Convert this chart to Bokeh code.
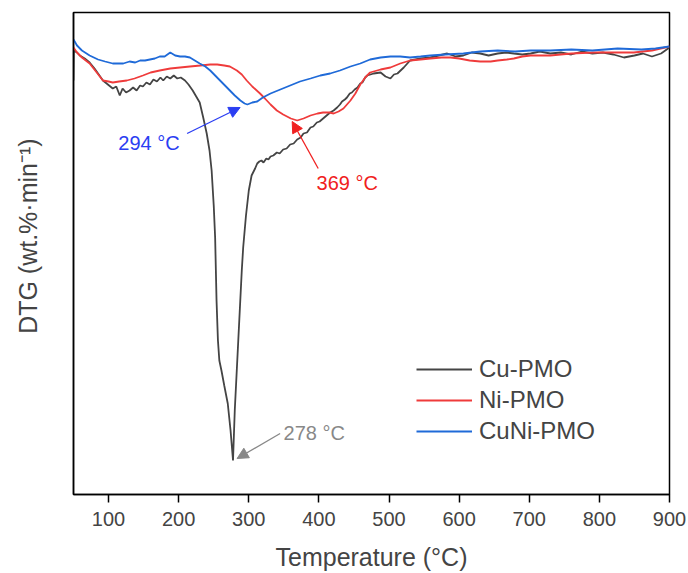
import math
from bokeh.plotting import figure
from bokeh.models import Range1d, Label, Arrow, NormalHead, FixedTicker
from bokeh.embed import file_html
from bokeh.resources import INLINE

FONT = "Liberation Sans"

# ---- data (DTG, wt.%/min) ----
cu_T = [50, 50.5, 55, 59, 66, 73, 80, 86, 92, 99, 106, 111, 116, 120, 125, 130, 135, 140, 145, 149,
        154, 159, 164, 169, 174, 178, 183, 188, 193, 198, 203, 209, 214, 220, 225, 230, 235, 240, 244,
        247, 250, 252, 254, 256, 258, 261, 265, 270, 274, 277.5, 280, 285, 290, 292, 296, 300, 304,
        309, 312, 315, 318, 321, 325, 328, 331, 335, 340, 344, 349, 354, 359, 364, 369, 374, 378,
        383, 388, 392, 397, 401, 406, 411, 416, 421, 426, 430, 433, 437, 440, 444, 447, 451, 455,
        459, 462, 466, 469, 478, 488, 495, 502, 507, 512, 521, 530, 545, 559, 571, 583, 595, 606, 618,
        630, 642, 655, 667, 678, 690, 702, 715, 730, 745, 760, 775, 790, 805, 820, 835, 850, 862,
        875, 888, 900]
cu_dtg = [-0.80, -0.20, -0.24, -0.30, -0.36, -0.44, -0.56, -0.68, -0.80, -0.88, -0.96, -0.92, -1.10,
          -0.96, -1.04, -1.00, -0.94, -1.00, -0.90, -0.92, -0.84, -0.88, -0.78, -0.82, -0.74, -0.80,
          -0.72, -0.76, -0.70, -0.76, -0.74, -0.80, -0.88, -1.00, -1.12, -1.24, -1.54, -1.86, -2.20,
          -2.60, -3.30, -3.94, -5.20, -6.00, -6.40, -6.60, -6.90, -7.26, -7.80, -8.40, -7.40, -6.00,
          -4.60, -4.14, -3.50, -3.00, -2.70,
          -2.56, -2.46, -2.42, -2.40, -2.44, -2.36, -2.38, -2.32, -2.30, -2.24, -2.26, -2.18, -2.16,
          -2.08, -2.06, -1.98, -1.94, -1.86, -1.84, -1.74, -1.72, -1.64, -1.62, -1.56, -1.50, -1.44,
          -1.40, -1.34, -1.28, -1.22, -1.18, -1.14, -1.06, -1.04, -0.98, -0.94, -0.86, -0.84, -0.74,
          -0.70, -0.66, -0.64, -0.72, -0.76, -0.68, -0.66, -0.54, -0.40, -0.36, -0.34, -0.30, -0.26,
          -0.32, -0.30, -0.24, -0.26, -0.30, -0.26, -0.24, -0.26, -0.28, -0.26, -0.22, -0.26, -0.24,
          -0.28, -0.22, -0.26, -0.24, -0.28, -0.34, -0.30, -0.26, -0.32, -0.26, -0.14]

ni_T = [50, 55, 62, 73, 82, 92, 100, 106, 115, 126, 137, 149, 160, 173, 188, 202, 216, 231, 245, 255,
        265, 273, 283, 290, 297, 305, 316, 323, 331, 340, 349, 360, 369, 378, 388, 398, 406, 415, 421,
        428, 435, 445, 452, 459, 466, 473, 488, 502, 516, 530, 545, 559, 575, 588, 600, 615, 630, 645,
        655, 668, 678, 690, 702, 730, 760, 792, 820, 849, 875, 900]
ni_dtg = [-0.14, -0.24, -0.34, -0.46, -0.62, -0.80, -0.82, -0.84, -0.82, -0.80, -0.76, -0.70, -0.64,
          -0.60, -0.56, -0.54, -0.52, -0.50, -0.48, -0.48, -0.50, -0.52, -0.60, -0.68, -0.80, -0.92,
          -1.06, -1.16, -1.28, -1.40, -1.48, -1.56, -1.60, -1.56, -1.50, -1.46, -1.44, -1.44, -1.46,
          -1.42, -1.36, -1.20, -1.06, -0.88, -0.74, -0.64, -0.58, -0.54, -0.46, -0.40, -0.38, -0.36,
          -0.34, -0.34, -0.36, -0.40, -0.42, -0.42, -0.40, -0.38, -0.36, -0.32, -0.30, -0.30, -0.26,
          -0.24, -0.24, -0.24, -0.20, -0.12]

cuni_T = [50, 55, 62, 73, 85, 95, 106, 115, 121, 130, 138, 145, 152, 159, 166, 173, 180, 188, 195,
          202, 209, 216, 223, 230, 238, 245, 252, 259, 266, 273, 280, 288, 294, 298, 305, 312, 320,
          331, 345, 359, 373, 388, 402, 416, 430, 445, 459, 473, 488, 502, 516, 530, 545, 559, 580,
          606, 630, 655, 680, 702, 730, 760, 790, 826, 860, 880, 900]
cuni_dtg = [0.02, -0.10, -0.20, -0.30, -0.38, -0.42, -0.46, -0.46, -0.46, -0.42, -0.44, -0.40, -0.40,
            -0.38, -0.36, -0.32, -0.32, -0.24, -0.30, -0.32, -0.32, -0.34, -0.40, -0.46, -0.52, -0.60,
            -0.70, -0.80, -0.90, -1.00, -1.10, -1.20, -1.26, -1.28, -1.24, -1.22, -1.14, -1.06, -0.98,
            -0.90, -0.82, -0.76, -0.70, -0.66, -0.60, -0.52, -0.46, -0.38, -0.34, -0.32, -0.32, -0.34,
            -0.32, -0.30, -0.28, -0.26, -0.22, -0.20, -0.22, -0.20, -0.20, -0.18, -0.20, -0.16, -0.18,
            -0.16, -0.12]

series_names = ["Cu-PMO", "Ni-PMO", "CuNi-PMO"]
x_ticks = [100, 200, 300, 400, 500, 600, 700, 800, 900]
peak_labels = ["294 °C", "369 °C", "278 °C"]
y_title = "DTG (wt.%·min⁻¹)"
x_title = "Temperature (°C)"

# ---- figure ----
p = figure(width=688, height=573, output_backend="svg", toolbar_location=None,
           x_range=Range1d(50, 900), y_range=Range1d(-9.08, 0.56),
           min_border_left=73, min_border_right=19, min_border_top=12, min_border_bottom=79)
p.background_fill_color = "white"
p.border_fill_color = "white"
p.outline_line_color = "black"
p.outline_line_width = 1.5
p.grid.visible = False

c_cu, c_ni, c_cuni = "#444444", "#ef3b3b", "#1f6ad8"
p.line(cu_T, cu_dtg, color=c_cu, line_width=1.8, legend_label=series_names[0])
p.line(ni_T, ni_dtg, color=c_ni, line_width=1.8, legend_label=series_names[1])
p.line(cuni_T, cuni_dtg, color=c_cuni, line_width=1.8, legend_label=series_names[2])

xa = p.xaxis[0]
xa.ticker = FixedTicker(ticks=x_ticks)
xa.axis_label = x_title
xa.axis_label_text_font = FONT
xa.axis_label_text_font_size = "25px"
xa.axis_label_text_font_style = "normal"
xa.axis_label_standoff = 14
xa.major_label_text_font = FONT
xa.major_label_text_font_size = "20px"
xa.major_label_standoff = 9
xa.major_tick_out = 8
xa.major_tick_in = 0
xa.minor_tick_out = 0
xa.minor_tick_in = 0
xa.axis_line_width = 1.5
xa.major_tick_line_width = 1.5

ya = p.yaxis[0]
ya.ticker = FixedTicker(ticks=[])
ya.major_tick_line_color = None
ya.minor_tick_line_color = None
ya.major_tick_out = 0
ya.major_tick_in = 0
ya.major_label_standoff = 0
ya.axis_line_width = 1.5
# leading no-break spaces move the visible title up a little, as in the reference
ya.axis_label = "\u00a0" * 5 + y_title
ya.axis_label_text_font = FONT
ya.axis_label_text_font_size = "25px"
ya.axis_label_text_font_style = "normal"
ya.axis_label_standoff = 32

# peak annotations
ann = [
    (peak_labels[0], "#2b3ef2", 157.6, -2.04, 212, -1.86, 287.6, -1.34),
    (peak_labels[1], "#f02020", 440.4, -2.84, 399, -2.56, 361.9, -1.62),
    (peak_labels[2], "#888888", 393.3, -7.84, 344.7, -7.86, 283.3, -8.36),
]
for txt, col, tx, ty, xs, ys, xe, ye in ann:
    p.add_layout(Label(x=tx, y=ty, text=txt, text_color=col, text_font=FONT,
                       text_font_size="20px", text_align="center", text_baseline="middle"))
    p.add_layout(Arrow(end=NormalHead(size=11, fill_color=col, line_color=col, line_width=1),
                       x_start=xs, y_start=ys, x_end=xe, y_end=ye,
                       line_color=col, line_width=1.3))

lg = p.legend[0]
lg.location = (343, 49)
lg.border_line_color = None
lg.background_fill_alpha = 0
lg.padding = 0
lg.margin = 0
lg.spacing = 3
lg.glyph_width = 56
lg.label_standoff = 7
lg.label_text_font = FONT
lg.label_text_font_size = "24px"

open("out.html", "w").write(file_html(p, INLINE))
